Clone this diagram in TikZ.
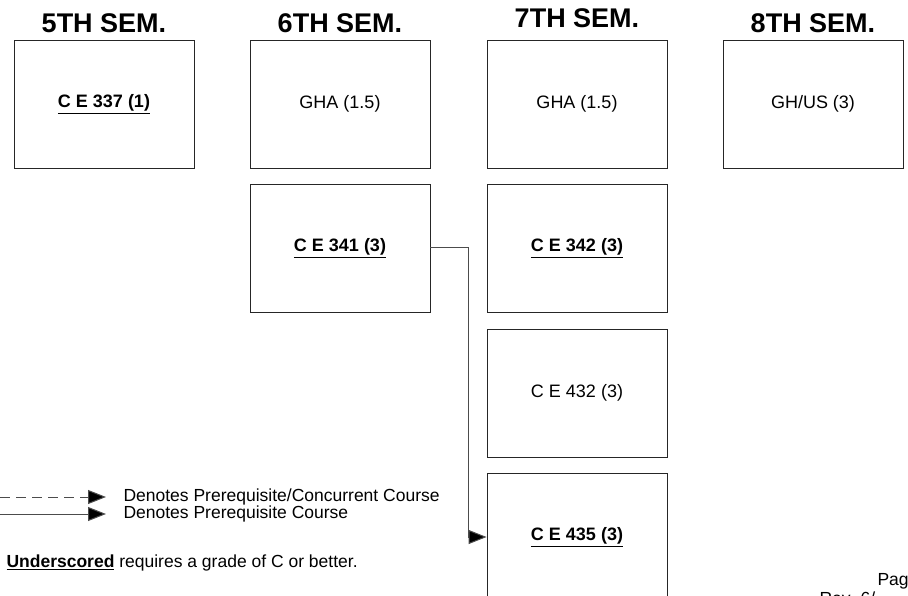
\documentclass[tikz,border=0pt]{standalone}
\usepackage{fontspec}
\setmainfont{Liberation Sans}
\usetikzlibrary{arrows.meta}

\tikzset{
    course/.style={draw=black!85, line width=0.9pt, minimum width=180pt, minimum height=128pt, inner sep=0pt, font=\fontsize{18}{20}\selectfont},
    semhead/.style={font=\fontsize{27}{29}\selectfont\bfseries},
    note/.style={anchor=west, font=\fontsize{17.5}{19}\selectfont},
    prereq/.style={draw=black!70, line width=1pt, -{Triangle[length=18pt,width=14pt,fill=black]}},
}

\begin{document}
\begin{tikzpicture}[x=1pt,y=-1pt]
    \useasboundingbox (0,0) rectangle (908,596);
    \clip (0,0) rectangle (908,596);
    % semester headings
    \node[semhead] (h5) at (104,23) {5TH SEM.};
    \node[semhead] (h6) at (340,23) {6TH SEM.};
    \node[semhead] (h7) at (577,18) {7TH SEM.};
    \node[semhead] (h8) at (813,23) {8TH SEM.};
    % courses
    \node[course] (ce337) at (104,104) {\textbf{\underline{C E 337 (1)}}};
    \node[course] (gha6) at (340,104) {GHA (1.5)};
    \node[course] (ce341) at (340,248) {\textbf{\underline{C E 341 (3)}}};
    \node[course] (gha7) at (577,104) {GHA (1.5)};
    \node[course] (ce342) at (577,248) {\textbf{\underline{C E 342 (3)}}};
    \node[course] (ce432) at (577,393) {C E 432 (3)};
    \node[course] (ce435) at (577,537) {\textbf{\underline{C E 435 (3)}}};
    \node[course] (ghus) at (813,104) {GH/US (3)};
    % prerequisite
    \draw[prereq] (ce341.east) -- (468,248) |- (ce435.west);
    % legend
    \coordinate (ld0) at (0,497);
    \coordinate (ld1) at (106,497);
    \coordinate (ls0) at (0,514);
    \coordinate (ls1) at (106,514);
    \draw[prereq, dash pattern=on 10pt off 6pt] (ld0) -- (ld1);
    \draw[prereq] (ls0) -- (ls1);
    \node[note] (lgd) at (120,497) {Denotes Prerequisite/Concurrent Course};
    \node[note] (lgs) at (120,514) {Denotes Prerequisite Course};
    \node[note] (und) at (3,563) {\textbf{\underline{Underscored}} requires a grade of C or better.};
    \node[note] (pag) at (874,581) {Pag};
    \node[note] (rev) at (816,598) {Rev. 6/};
\end{tikzpicture}
\end{document}
